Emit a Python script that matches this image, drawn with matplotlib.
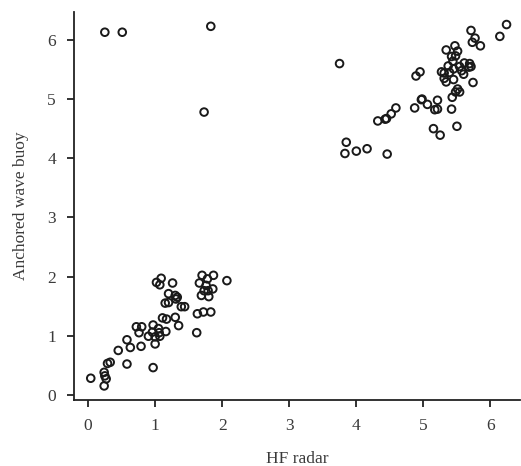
import matplotlib.pyplot as plt

# HF radar vs anchored wave buoy
hf_radar = [
    # lower-left cluster
    0.04, 0.24, 0.25, 0.27, 0.24, 0.29, 0.33, 0.45, 0.58, 0.63,
    0.58, 0.72, 0.76, 0.80, 0.79, 0.97, 0.90, 0.96, 0.97, 1.00,
    1.00, 1.05, 1.07, 1.06, 1.16, 1.02, 1.07, 1.09, 1.11, 1.17,
    1.15, 1.20, 1.20, 1.26, 1.30, 1.33, 1.31, 1.30, 1.35, 1.39,
    1.44, 1.62, 1.63, 1.72, 1.83, 1.66, 1.70, 1.78, 1.87, 2.07,
    1.69, 1.73, 1.76, 1.80, 1.86, 1.79,
    # outliers
    0.25, 0.51, 1.83, 1.73, 3.75,
    # upper-right cluster
    3.85, 3.83, 4.00, 4.16, 4.46, 4.32, 4.43, 4.45, 4.52, 4.59,
    4.87, 4.97, 5.06, 4.89, 4.95, 5.15, 5.25, 5.17, 5.21, 5.21,
    5.42, 5.50, 5.43, 5.48, 5.54, 5.51, 5.74, 5.34, 5.31, 5.45,
    5.31, 5.27, 5.39, 5.60, 5.57, 5.45, 5.54, 5.68, 5.71, 5.69,
    5.61, 5.37, 5.44, 5.42, 5.48, 5.51, 5.34, 5.47, 5.85, 5.73,
    5.77, 5.71, 6.14, 6.24, 4.98,
]
wave_buoy = [
    # lower-left cluster
    0.28, 0.38, 0.32, 0.27, 0.15, 0.53, 0.55, 0.75, 0.93, 0.80,
    0.52, 1.15, 1.05, 1.15, 0.82, 0.46, 0.99, 1.06, 1.18, 0.86,
    0.98, 1.12, 0.99, 1.05, 1.07, 1.90, 1.86, 1.97, 1.30, 1.28,
    1.55, 1.56, 1.71, 1.89, 1.68, 1.65, 1.62, 1.31, 1.17, 1.49,
    1.49, 1.05, 1.37, 1.40, 1.40, 1.89, 2.02, 1.96, 2.02, 1.93,
    1.68, 1.76, 1.85, 1.66, 1.79, 1.76,
    # outliers
    6.13, 6.13, 6.23, 4.78, 5.60,
    # upper-right cluster
    4.27, 4.08, 4.12, 4.16, 4.07, 4.63, 4.66, 4.67, 4.75, 4.85,
    4.85, 4.99, 4.91, 5.39, 5.46, 4.50, 4.39, 4.82, 4.83, 4.98,
    4.83, 4.54, 5.03, 5.12, 5.12, 5.17, 5.28, 5.29, 5.35, 5.33,
    5.44, 5.46, 5.45, 5.42, 5.48, 5.51, 5.55, 5.54, 5.55, 5.60,
    5.61, 5.56, 5.64, 5.72, 5.73, 5.81, 5.83, 5.90, 5.90, 5.96,
    6.03, 6.16, 6.06, 6.26, 5.00,
]

plt.rcParams['font.family'] = ['Liberation Serif', 'DejaVu Serif']

fig = plt.figure(figsize=(5.21, 4.66), dpi=100)
ax = fig.add_axes([0.142, 0.142, 0.856, 0.832])

ax.scatter(hf_radar, wave_buoy, s=30, facecolors='none', edgecolors='#1a1a1a', linewidths=1.4)

ax.set_xlim(-0.21, 6.44)
ax.set_ylim(-0.085, 6.47)
ax.set_xticks(range(0, 7))
ax.set_yticks(range(0, 7))

for side in ['top', 'right']:
    ax.spines[side].set_visible(False)
for side in ['left', 'bottom']:
    ax.spines[side].set_linewidth(1.3)
    ax.spines[side].set_color('#222222')

ax.tick_params(direction='out', length=5, width=1.3, pad=8, labelsize=12.5, colors='#222222', labelcolor='#3a3a3a')
ax.set_xlabel('HF radar', fontsize=12.5, color='#3a3a3a', labelpad=12)
ax.set_ylabel('Anchored wave buoy', fontsize=12.5, color='#3a3a3a', labelpad=13)

fig.savefig('out.png', dpi=100)
